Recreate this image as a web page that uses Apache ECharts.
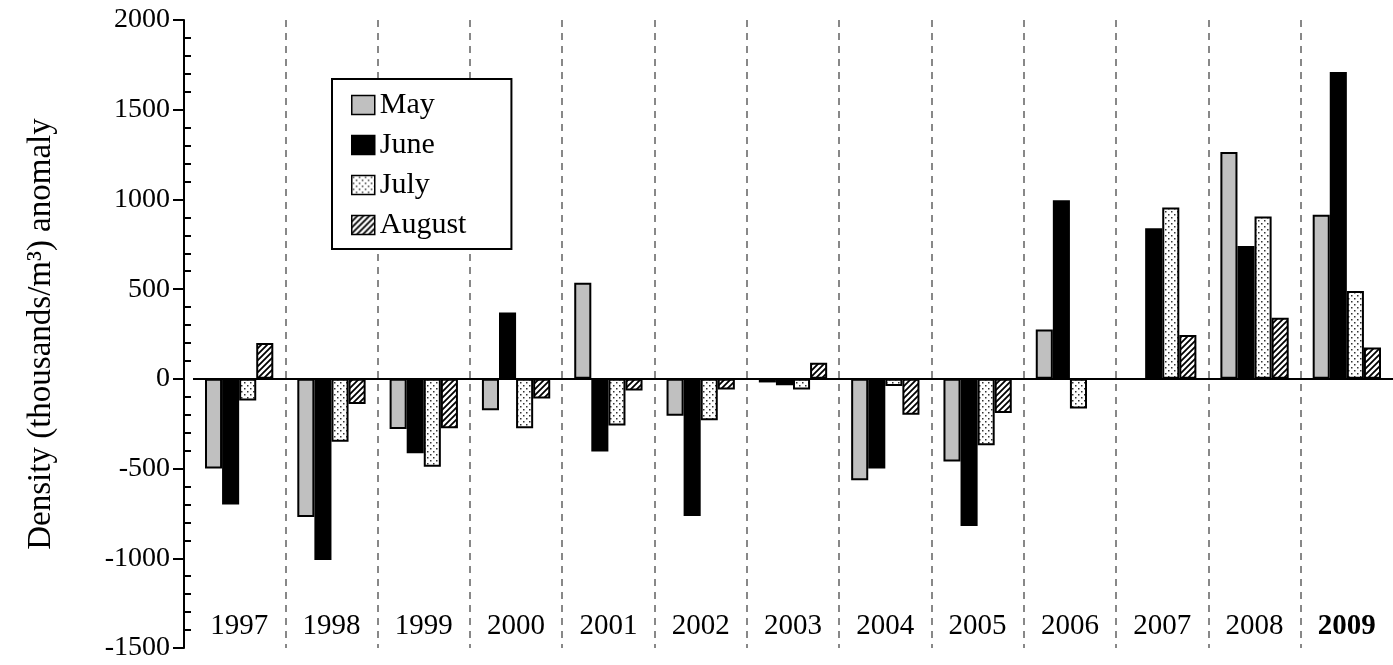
<!DOCTYPE html>
<html>
<head>
<meta charset="utf-8">
<script src="https://cdn.jsdelivr.net/npm/echarts@6/dist/echarts.min.js"></script>
<style>
html,body{margin:0;padding:0;background:#fff;}
#chart{width:1393px;height:665px;}
</style>
</head>
<body>
<div id="chart"></div>
<script>
const years = ['1997','1998','1999','2000','2001','2002','2003','2004','2005','2006','2007','2008','2009'];
const boldYear = '2009';
const seriesNames = ['May','June','July','August'];
const mayVals    = [-500, -770, -280, -175,  535, -205, -20, -565, -460,  275, null, 1265,  915];
const juneVals   = [-700,-1010, -415,  370, -405, -765, -35, -500, -820,  995,  840,  740, 1710];
const julyVals   = [-120, -350, -490, -275, -260, -230, -60,  -40, -370, -165,  955,  905,  490];
const augustVals = [ 200, -140, -275, -110,  -65,  -60,  90, -200, -190, null,  245,  340,  175];
const yTicks = {min: -1500, max: 2000, interval: 500};
const yTitle = 'Density (thousands/m³) anomaly';

function dotPattern() {
  const c = document.createElement('canvas');
  c.width = 6; c.height = 6;
  const g = c.getContext('2d');
  g.fillStyle = '#ffffff'; g.fillRect(0,0,6,6);
  g.fillStyle = '#333';
  g.fillRect(1,1,1.5,1.5);
  g.fillRect(4,4,1.5,1.5);
  return c;
}
function hatchPattern() {
  const c = document.createElement('canvas');
  c.width = 6; c.height = 6;
  const g = c.getContext('2d');
  g.fillStyle = '#ffffff'; g.fillRect(0,0,6,6);
  g.strokeStyle = '#000'; g.lineWidth = 1.8;
  g.beginPath();
  g.moveTo(-1,7); g.lineTo(7,-1);
  g.moveTo(-1,1); g.lineTo(1,-1);
  g.moveTo(5,7); g.lineTo(7,5);
  g.stroke();
  return c;
}

const FONT = '"Liberation Serif", "Times New Roman", serif';
const styles = [
  {color: '#c0c0c0', borderColor: '#000', borderWidth: 2},
  {color: '#000000', borderColor: '#000', borderWidth: 2},
  {color: {image: dotPattern(), repeat: 'repeat'}, borderColor: '#000', borderWidth: 2},
  {color: {image: hatchPattern(), repeat: 'repeat'}, borderColor: '#000', borderWidth: 2}
];
const values = [mayVals, juneVals, julyVals, augustVals];

const series = seriesNames.map((n, i) => ({
  name: n,
  type: 'bar',
  data: values[i],
  barGap: '0%',
  barCategoryGap: '26%',
  itemStyle: styles[i],
  animation: false
}));
series[0].markLine = {
  silent: true,
  symbol: 'none',
  label: {show: false},
  lineStyle: {color: '#000', width: 2, type: 'solid'},
  data: [{yAxis: 0}],
  animation: false
};

const chart = echarts.init(document.getElementById('chart'), null, {renderer: 'canvas'});
chart.setOption({
  animation: false,
  backgroundColor: '#fff',
  textStyle: {fontFamily: FONT},
  grid: {left: 193, right: -3, top: 20, bottom: 17, containLabel: false},
  legend: {
    orient: 'vertical',
    left: 332, top: 79,
    data: seriesNames.map(n => ({name: n, icon: 'rect'})),
    backgroundColor: '#fff',
    borderColor: '#000', borderWidth: 2,
    padding: [11, 45, 9, 19],
    itemWidth: 23, itemHeight: 19,
    itemGap: 10,
    itemTextGap: 12,
    itemStyle: {borderColor: '#000', borderWidth: 1.5},
    textStyle: {fontFamily: FONT, fontSize: 30, color: '#000'}
  },
  xAxis: {
    type: 'category',
    data: years,
    axisLine: {show: false, onZero: false},
    axisTick: {show: false, interval: 0},
    splitLine: {show: true, interval: 0, showMinLine: false, showMaxLine: false,
      lineStyle: {color: '#888', width: 2, type: [7, 6]}},
    axisLabel: {
      inside: true, margin: 7, interval: 0,
      fontFamily: FONT, fontSize: 29, color: '#000',
      formatter: v => v === boldYear ? '{b|' + v + '}' : v,
      rich: {b: {fontWeight: 'bold', fontFamily: FONT, fontSize: 29, color: '#000'}}
    }
  },
  yAxis: {
    type: 'value',
    min: yTicks.min, max: yTicks.max, interval: yTicks.interval,
    offset: 9,
    name: yTitle,
    nameLocation: 'middle',
    nameGap: 126,
    nameTextStyle: {fontFamily: FONT, fontSize: 33, color: '#000'},
    axisLine: {show: true, lineStyle: {color: '#000', width: 2}},
    axisTick: {show: true, length: 11, lineStyle: {color: '#000', width: 2}},
    minorTick: {show: true, splitNumber: 5, length: -7, lineStyle: {color: '#000', width: 2}},
    splitLine: {show: false},
    axisLabel: {margin: 14, fontFamily: FONT, fontSize: 28, color: '#000',
      formatter: v => String(v)}
  },
  series: series
});
</script>
</body>
</html>
